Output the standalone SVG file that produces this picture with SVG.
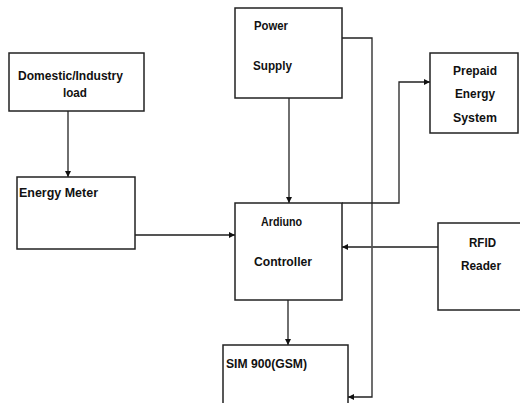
<svg xmlns="http://www.w3.org/2000/svg" width="520" height="403" viewBox="0 0 520 403">
<defs>
<style>
.box{fill:#fff;stroke:#222;stroke-width:1.5}
.t{font-family:"Liberation Sans",Arial,sans-serif;font-weight:bold;font-size:12px;fill:#111}
.c{fill:none;stroke:#222;stroke-width:1.3}
.g{fill:none;stroke:#555;stroke-width:2}
</style>
<marker id="ah" viewBox="0 0 10 10" refX="10" refY="5" markerWidth="6" markerHeight="6" markerUnits="userSpaceOnUse" orient="auto">
<path d="M0,0 L10,5 L0,10 z" fill="#111"/>
</marker>
</defs>
<rect width="520" height="403" fill="#fff"/>
<g id="connectors">
<path class="c" d="M68,111 V177" marker-end="url(#ah)"/>
<path class="g" d="M135,235 H235" marker-end="url(#ah)"/>
<path class="c" d="M289,98 V203" marker-end="url(#ah)"/>
<path class="c" d="M342,38 H372 V397 H348" marker-end="url(#ah)"/>
<path class="c" d="M342,203 H399 V82 H430" marker-end="url(#ah)"/>
<path class="g" d="M438,247 H342" marker-end="url(#ah)"/>
<path class="c" d="M288,300 V345" marker-end="url(#ah)"/>
</g>
<g id="domestic">
<rect class="box" x="9" y="53" width="135" height="58"/>
<text class="t" x="18" y="80" textLength="105" lengthAdjust="spacingAndGlyphs">Domestic/Industry</text>
<text class="t" x="63" y="97" textLength="24" lengthAdjust="spacingAndGlyphs">load</text>
</g>
<g id="energy-meter">
<rect class="box" x="17" y="177" width="118" height="72"/>
<text class="t" x="19" y="197" textLength="79" lengthAdjust="spacingAndGlyphs">Energy Meter</text>
</g>
<g id="power-supply">
<rect class="box" x="235" y="8" width="107" height="90"/>
<text class="t" x="254" y="30" textLength="34" lengthAdjust="spacingAndGlyphs">Power</text>
<text class="t" x="253" y="70" textLength="39" lengthAdjust="spacingAndGlyphs">Supply</text>
</g>
<g id="prepaid">
<rect class="box" x="430" y="53" width="88" height="80"/>
<text class="t" x="453" y="75" textLength="44" lengthAdjust="spacingAndGlyphs">Prepaid</text>
<text class="t" x="455" y="98" textLength="40" lengthAdjust="spacingAndGlyphs">Energy</text>
<text class="t" x="453" y="122" textLength="44" lengthAdjust="spacingAndGlyphs">System</text>
</g>
<g id="controller">
<rect class="box" x="235" y="203" width="107" height="97"/>
<text class="t" x="261" y="226" textLength="41" lengthAdjust="spacingAndGlyphs">Ardiuno</text>
<text class="t" x="254" y="266" textLength="58" lengthAdjust="spacingAndGlyphs">Controller</text>
</g>
<g id="rfid">
<rect class="box" x="438" y="223" width="90" height="87"/>
<text class="t" x="469" y="247" textLength="27" lengthAdjust="spacingAndGlyphs">RFID</text>
<text class="t" x="461" y="270" textLength="40" lengthAdjust="spacingAndGlyphs">Reader</text>
</g>
<g id="sim900">
<rect class="box" x="223" y="345" width="125" height="70"/>
<text class="t" x="226" y="368" textLength="81" lengthAdjust="spacingAndGlyphs">SIM 900(GSM)</text>
</g>
</svg>
